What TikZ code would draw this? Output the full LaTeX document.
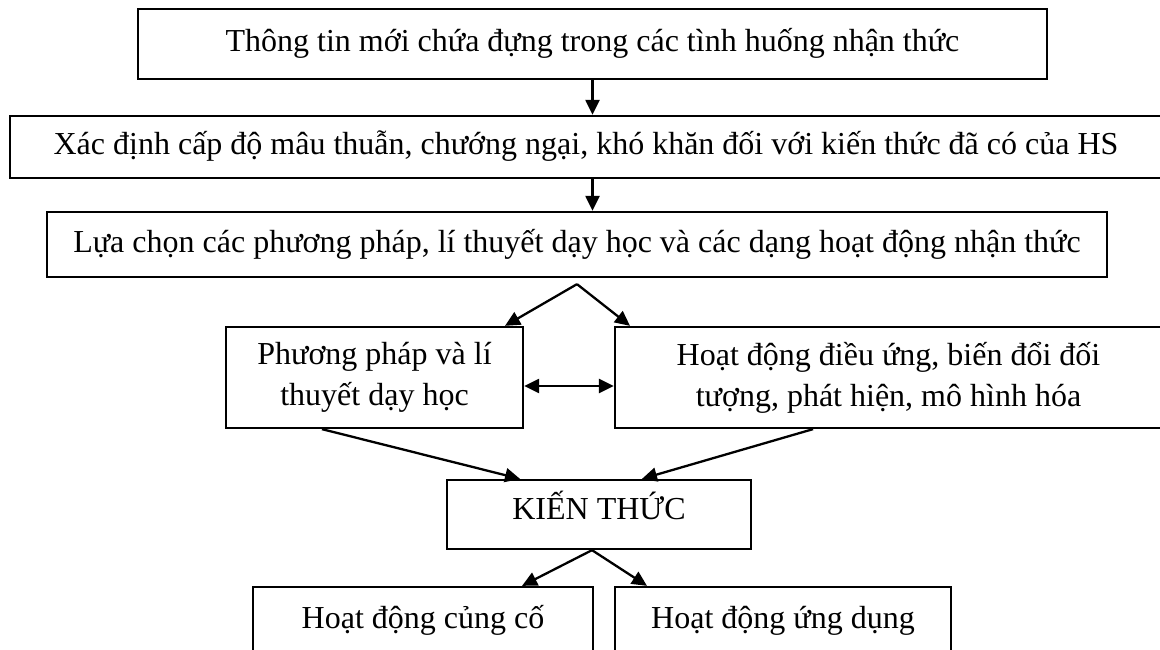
\documentclass[tikz,border=0pt]{standalone}
\usepackage{fontspec}
\setmainfont{Liberation Serif}
\usetikzlibrary{arrows.meta}
\begin{document}
\begin{tikzpicture}[x=1pt,y=-1pt,
  box/.style={draw, line width=2.3pt, inner sep=0pt, font=\fontsize{32}{41}\selectfont},
  oneline/.style={box, text height=22pt, text depth=7pt},
  twoline/.style={box, align=center},
  link/.style={line width=2.3pt, -{Triangle[length=15pt,width=14pt]}},
  both/.style={line width=2.3pt, {Triangle[length=15pt,width=14pt]}-{Triangle[length=15pt,width=14pt]}}]
\useasboundingbox (0,0) rectangle (1160,650);

% main column
\node[oneline, minimum width=909pt, minimum height=70pt] (info) at (592.5,44)
  {Thông tin mới chứa đựng trong các tình huống nhận thức};
\node[oneline, minimum width=1152pt, minimum height=62pt] (level) at (586,147)
  {Xác định cấp độ mâu thuẫn, chướng ngại, khó khăn đối với kiến thức đã có của HS};
\node[oneline, minimum width=1060pt, minimum height=65pt] (choose) at (577,244.5)
  {Lựa chọn các phương pháp, lí thuyết dạy học và các dạng hoạt động nhận thức};

% two branches
\node[twoline, minimum width=297pt, minimum height=101pt] (method) at (374.5,377.5)
  {Phương pháp và lí\\thuyết dạy học};
\node[twoline, minimum width=547pt, minimum height=101pt] (activity) at (888.5,377.5)
  {Hoạt động điều ứng, biến đổi đối\\tượng, phát hiện, mô hình hóa};

% knowledge and its uses
\node[oneline, minimum width=304pt, minimum height=69pt] (know) at (599,514.5)
  {\raisebox{3pt}{KIẾN THỨC}};
\node[oneline, minimum width=340pt, minimum height=68pt] (consol) at (423,621)
  {Hoạt động củng cố};
\node[oneline, minimum width=336pt, minimum height=68pt] (apply) at (783,621)
  {Hoạt động ứng dụng};

\coordinate (fork) at ([yshift=-6pt]choose.south);

% connectors
\draw[link] (info.south) -- (info.south |- level.north);
\draw[link] (level.south -| info.south) -- (choose.north -| info.south);
\draw[link] (fork) -- ([xshift=130.5pt]method.north);
\draw[link] (fork) -- ([xshift=-258.5pt]activity.north);
\draw[both] ([yshift=-8.5pt]method.east) -- ([yshift=-8.5pt]activity.west);
\draw[link] ([xshift=-52.5pt]method.south) -- ([xshift=-79pt]know.north);
\draw[link] ([xshift=-75.5pt]activity.south) -- ([xshift=43pt]know.north);
\draw[link] ([xshift=-7pt]know.south) -- ([xshift=99pt]consol.north);
\draw[link] ([xshift=-7pt]know.south) -- ([xshift=-136pt]apply.north);
\end{tikzpicture}
\end{document}
